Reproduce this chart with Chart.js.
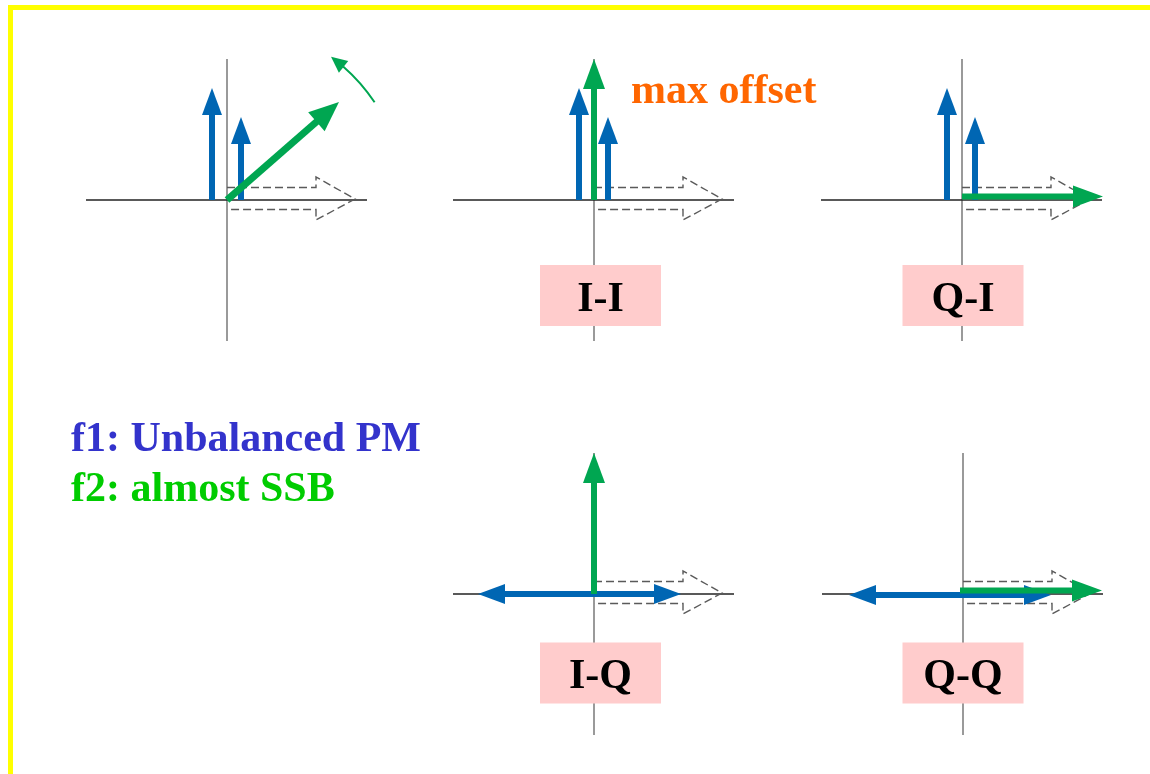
<!DOCTYPE html>
<html><head><meta charset="utf-8">
<script src="https://cdn.jsdelivr.net/npm/chart.js@4/dist/chart.umd.min.js"></script>
<style>html,body{margin:0;padding:0;background:#fff;overflow:hidden}#wrap{position:relative;width:1150px;height:774px}</style>
</head><body><div id="wrap"><canvas id="c"></canvas></div>
<script>
// ---------- DATA (diagram units, y pointing up, relative to each panel origin) ----------
const panelLabels = ['', 'I-I', 'Q-I', 'I-Q', 'Q-Q'];
// f1 phasors (blue): [x0, y0, x1, y1]
const f1Lower = [[-15,0,-15,112], [-15,0,-15,112], [-15,0,-15,112], [0,0,-116,0], [0,-1,-114,-1]];
const f1Upper = [[14,0,14,83], [14,0,14,83], [13,0,13,83], [0,0,87,0], [0,-1,88,-1]];
// f2 phasor (green): [x0, y0, x1, y1]
const f2Vec = [[0,0,112,98], [0,0,0,141], [0,3.5,141,3.5], [0,0,0,141], [-3,3.5,139,3.5]];
// reference (dashed, hollow) offset arrow length
const refLen = [128, 128, 128, 128, 128];
const legendLines = ['f1: Unbalanced PM', 'f2: almost SSB'];
const noteText = 'max offset';

// ---------- LAYOUT ----------
const W = 1150, H = 774;
const origins = [[227,200],[594,200],[962,200],[594,594],[963,594]];
const axisHalf = 141;
const labelBox = [null, [6.5,95.5], [1,95.5], [6.5,79], [0,79]]; // box centre offsets (screen px)
const boxW = 121, boxH = 61;
const COL = {blue:'#0066B3', green:'#00A651', axisH:'#222222', axisV:'#9a9a9a', dash:'#5a5a5a',
             pink:'#FFCCCC', yellow:'#FFFF00', orange:'#FF6600', f1:'#3333CC', f2:'#00CC00'};
const FONT = 'bold 42px "Liberation Serif", "Times New Roman", serif';

// ---------- BUILD DATASETS ----------
const datasets = [];
function P(i, x, y){ return {x: origins[i][0] + x, y: origins[i][1] - y}; }
function arrowDs(i, v, color, width, hl, hw, order){
  const [x0,y0,x1,y1] = v;
  const dx = x1-x0, dy = y1-y0, L = Math.hypot(dx,dy);
  const ux = dx/L, uy = dy/L;
  const sx = x1 - ux*(hl-3), sy = y1 - uy*(hl-3);
  return {data:[P(i,x0,y0), P(i,sx,sy)], tip:P(i,x1,y1), headLen:hl, headW:hw,
          borderColor:color, backgroundColor:color, borderWidth:width, order};
}
origins.forEach((o,i)=>{
  datasets.push({data:[P(i,-axisHalf,0),P(i,axisHalf-1,0)], borderColor:COL.axisH, borderWidth:1.3, order:5});
  datasets.push({data:[P(i,0,axisHalf),P(i,0,-axisHalf)], borderColor:COL.axisV, borderWidth:2, order:5});
  const L = refLen[i], n = L-39;
  datasets.push({data:[P(i,0,12.5),P(i,n,12.5),P(i,n,23),P(i,L,1),P(i,n,-20),P(i,n,-9.5),P(i,0,-9.5)],
    borderColor:COL.dash, borderWidth:1.4, borderDash:[8,4], order:4});
  datasets.push(arrowDs(i, f1Lower[i], COL.blue, 6, 27, 20, 3));
  datasets.push(arrowDs(i, f1Upper[i], COL.blue, 6, 27, 20, 3));
  datasets.push(arrowDs(i, f2Vec[i], COL.green, i===0 ? 7 : 6, 30, i===0 ? 25 : 22, 2));
});

const headPlugin = {
  id:'heads',
  beforeDraw(chart){
    const ctx = chart.ctx;
    ctx.save(); ctx.fillStyle = COL.yellow;
    ctx.fillRect(8,5,W-8,5); ctx.fillRect(8,5,5,H-5);
    ctx.restore();
  },
  afterDatasetDraw(chart, args){
    const ds = chart.data.datasets[args.index];
    if (!ds.tip) return;
    const X = chart.scales.x, Y = chart.scales.y, ctx = chart.ctx;
    const a = ds.data[0];
    const tx = X.getPixelForValue(ds.tip.x), ty = Y.getPixelForValue(ds.tip.y);
    const ax = X.getPixelForValue(a.x), ay = Y.getPixelForValue(a.y);
    const L = Math.hypot(tx-ax, ty-ay), ux = (tx-ax)/L, uy = (ty-ay)/L;
    const bx = tx - ux*ds.headLen, by = ty - uy*ds.headLen, h = ds.headW/2;
    ctx.save(); ctx.fillStyle = ds.borderColor; ctx.beginPath();
    ctx.moveTo(tx,ty); ctx.lineTo(bx - uy*h, by + ux*h); ctx.lineTo(bx + uy*h, by - ux*h);
    ctx.closePath(); ctx.fill(); ctx.restore();
  },
  afterDatasetsDraw(chart){
    const X = chart.scales.x, Y = chart.scales.y, ctx = chart.ctx;
    ctx.save();
    // rotation indicator in first panel
    const cx = X.getPixelForValue(origins[0][0]), cy = Y.getPixelForValue(origins[0][1]);
    const r = 177, a0 = 33.5*Math.PI/180, a1 = 49*Math.PI/180, aT = 54*Math.PI/180;
    ctx.strokeStyle = COL.green; ctx.lineWidth = 2;
    ctx.beginPath(); ctx.arc(cx, cy, r, -a0, -a1, true); ctx.stroke();
    const tX = cx + r*Math.cos(aT), tY = cy - r*Math.sin(aT);
    const bX = cx + r*Math.cos(a1), bY = cy - r*Math.sin(a1);
    const L = Math.hypot(tX-bX,tY-bY), ux=(tX-bX)/L, uy=(tY-bY)/L, h=7.5;
    const hx = tX-ux*16, hy = tY-uy*16;
    ctx.fillStyle = COL.green; ctx.beginPath();
    ctx.moveTo(tX,tY); ctx.lineTo(hx-uy*h, hy+ux*h); ctx.lineTo(hx+uy*h, hy-ux*h); ctx.closePath(); ctx.fill();
    // label boxes
    ctx.font = FONT; ctx.textAlign = 'center'; ctx.textBaseline = 'alphabetic';
    panelLabels.forEach((lab,i)=>{
      if (!lab) return;
      const bx = X.getPixelForValue(origins[i][0] + labelBox[i][0]);
      const by = Y.getPixelForValue(origins[i][1] + labelBox[i][1]);
      ctx.fillStyle = COL.pink; ctx.fillRect(bx-boxW/2, by-boxH/2, boxW, boxH);
      ctx.fillStyle = '#000'; ctx.fillText(lab, bx, by+15);
    });
    ctx.textAlign = 'left';
    ctx.fillStyle = COL.orange; ctx.fillText(noteText, 631, 103);
    ctx.fillStyle = COL.f1; ctx.fillText(legendLines[0], 71, 451);
    ctx.fillStyle = COL.f2; ctx.fillText(legendLines[1], 71, 501);
    ctx.restore();
  }
};

new Chart(document.getElementById('c'), {
  type:'scatter',
  data:{datasets: datasets.map(d=>Object.assign({showLine:true, pointRadius:0, pointHoverRadius:0, tension:0,
        fill:false, borderCapStyle:'butt', borderJoinStyle:'miter', clip:false}, d))},
  options:{
    responsive:true, maintainAspectRatio:false, animation:false, events:[],
    layout:{padding:0},
    plugins:{legend:{display:false}, tooltip:{enabled:false}},
    scales:{
      x:{type:'linear', min:0, max:W, display:false},
      y:{type:'linear', min:0, max:H, reverse:true, display:false}
    }
  },
  plugins:[headPlugin]
});
</script></body></html>
